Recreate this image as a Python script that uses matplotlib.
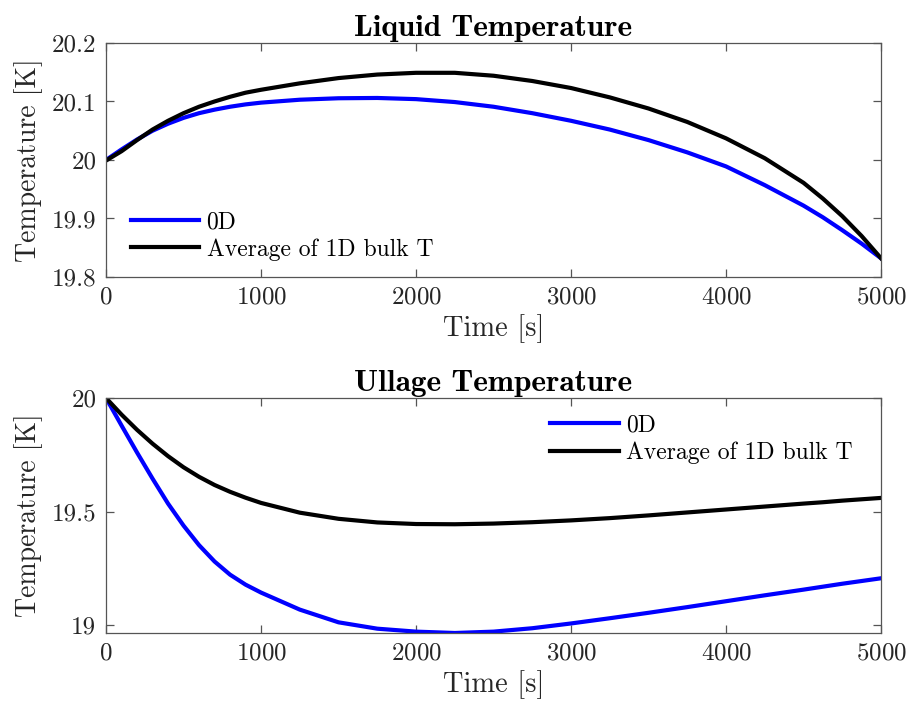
import numpy as np
import matplotlib
matplotlib.use("Agg")
import matplotlib.pyplot as plt
from matplotlib.ticker import FuncFormatter

# time axis [s]
time_s = [0, 100, 200, 300, 400, 500, 600, 700, 800, 900, 1000, 1250, 1500,
          1750, 2000, 2250, 2500, 2750, 3000, 3250, 3500, 3750, 4000, 4250,
          4500, 4625, 4750, 4875, 5000]

# liquid temperature [K]
liq_0d = [20.000, 20.018, 20.035, 20.050, 20.062, 20.072, 20.080, 20.086,
          20.091, 20.095, 20.098, 20.103, 20.1055, 20.106, 20.104, 20.099,
          20.091, 20.080, 20.067, 20.052, 20.034, 20.013, 19.989, 19.957,
          19.922, 19.902, 19.880, 19.857, 19.832]
liq_1d = [19.999, 20.015, 20.034, 20.052, 20.067, 20.080, 20.091, 20.100,
          20.108, 20.115, 20.120, 20.131, 20.140, 20.146, 20.149, 20.149,
          20.144, 20.135, 20.123, 20.107, 20.088, 20.065, 20.037, 20.003,
          19.961, 19.934, 19.904, 19.870, 19.832]

# ullage temperature [K]
ull_0d = [20.000, 19.879, 19.760, 19.645, 19.535, 19.438, 19.352, 19.280,
          19.222, 19.178, 19.143, 19.068, 19.012, 18.984, 18.971, 18.965,
          18.971, 18.986, 19.007, 19.030, 19.054, 19.079, 19.105, 19.131,
          19.156, 19.169, 19.182, 19.194, 19.206]
ull_1d = [20.000, 19.927, 19.860, 19.799, 19.744, 19.695, 19.653, 19.617,
          19.587, 19.561, 19.538, 19.495, 19.468, 19.452, 19.445, 19.444,
          19.447, 19.453, 19.461, 19.471, 19.483, 19.496, 19.509, 19.522,
          19.535, 19.541, 19.548, 19.554, 19.560]

labels = ["0D", "Average of 1D bulk T"]

plt.rcParams["font.family"] = "serif"
plt.rcParams["font.serif"] = ["cmr10", "DejaVu Serif"]
plt.rcParams["mathtext.fontset"] = "cm"
plt.rcParams["axes.formatter.use_mathtext"] = True

spine_col = "#555555"
txt_col = "#262626"


def style_axes(ax):
    for s in ax.spines.values():
        s.set_color(spine_col)
        s.set_linewidth(0.9)
    ax.tick_params(direction="in", length=5.5, width=0.9, color=spine_col,
                   top=True, right=True, labelsize=18, pad=7,
                   labelcolor=txt_col)
    ax.yaxis.set_major_formatter(FuncFormatter(lambda v, p: "%g" % round(v, 3)))
    ax.set_xlim(0, 5000)
    ax.set_xticks([0, 1000, 2000, 3000, 4000, 5000])
    ax.set_xlabel("Time [s]", fontsize=20.5, color=txt_col, labelpad=4)
    ax.set_ylabel("Temperature [K]", fontsize=20, color=txt_col, labelpad=6)


fig = plt.figure(figsize=(9.11, 7.09), dpi=100)

ax1 = fig.add_axes([0.1164, 0.6093, 0.8507, 0.3301])
ax1.plot(time_s, liq_0d, color="#0000ff", lw=3, label=labels[0])
ax1.plot(time_s, liq_1d, color="black", lw=3, label=labels[1])
style_axes(ax1)
ax1.set_ylim(19.8, 20.2)
ax1.set_yticks([19.8, 19.9, 20.0, 20.1, 20.2])
ax1.set_title("Liquid Temperature", fontsize=22.5, fontfamily="cmb10", pad=5)
ax1.legend(loc="lower left", bbox_to_anchor=(0.02, 0.03), frameon=False,
           fontsize=17, handlelength=2.9, handletextpad=0.3,
           labelspacing=0.2, borderaxespad=0)

ax2 = fig.add_axes([0.1164, 0.1072, 0.8507, 0.3314])
ax2.plot(time_s, ull_0d, color="#0000ff", lw=3, label=labels[0])
ax2.plot(time_s, ull_1d, color="black", lw=3, label=labels[1])
style_axes(ax2)
ax2.set_ylim(min(ull_0d), 20.0)
ax2.set_yticks([19.0, 19.5, 20.0])
ax2.set_title("Ullage Temperature", fontsize=22.5, fontfamily="cmb10", pad=5)
ax2.legend(loc="upper right", bbox_to_anchor=(0.975, 0.97), frameon=False,
           fontsize=17, handlelength=2.9, handletextpad=0.3,
           labelspacing=0.2, borderaxespad=0)

fig.savefig("out.png", dpi=100)
